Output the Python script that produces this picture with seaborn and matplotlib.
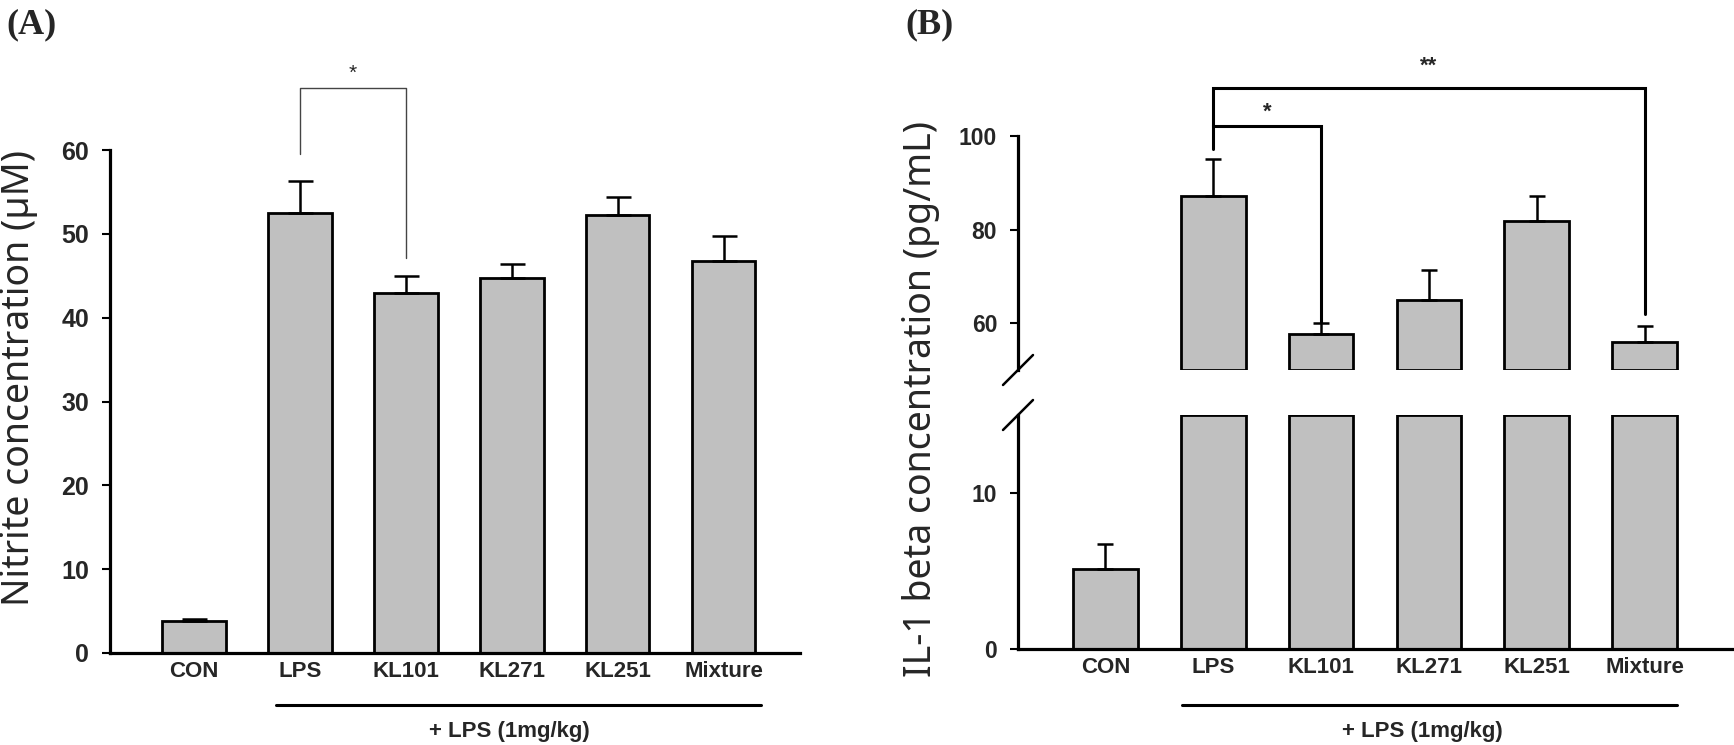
import numpy as np
import matplotlib
matplotlib.use("Agg")
import matplotlib.pyplot as plt
import matplotlib.transforms as mtransforms
import seaborn as sns

# --- data ---
groups = ["CON", "LPS", "KL101", "KL271", "KL251", "Mixture"]
nitrite_mean = [3.8, 52.5, 43.0, 44.7, 52.3, 46.7]
nitrite_err = [0.2, 3.8, 2.0, 1.7, 2.1, 3.0]
il1b_mean = [5.1, 87.2, 57.6, 65.0, 81.9, 56.0]
il1b_err = [1.6, 7.8, 2.4, 6.3, 5.3, 3.5]
a_ticks = [0, 10, 20, 30, 40, 50, 60]
b_low_ticks = [0, 10]
b_high_ticks = [60, 80, 100]
treat_label = "+ LPS (1mg/kg)"

BAR = "#c0c0c0"
SANS = ["Liberation Sans", "DejaVu Sans"]
LABEL_FONT = ["Noto Sans", "DejaVu Sans"]
SERIF = ["Liberation Serif", "DejaVu Serif"]

sns.set_style("ticks")
plt.rcParams["font.family"] = SANS

fig = plt.figure(figsize=(17.34, 7.45), dpi=100)
W, H = 1734, 745


def px_axes(left, top, right, bottom):
    return fig.add_axes([left / W, 1 - bottom / H, (right - left) / W, (bottom - top) / H])


def draw_bars(ax, means, errs, capsize):
    sns.barplot(x=groups, y=means, color=BAR, saturation=1, edgecolor="black",
                linewidth=2, width=0.6, errorbar=None, ax=ax)
    ax.errorbar(range(len(groups)), means, yerr=[np.zeros(len(errs)), errs],
                fmt="none", ecolor="black", elinewidth=1.8, capsize=capsize,
                capthick=1.8, zorder=1)


def style_axis(ax, ticks, tick_size, xlabels=True):
    ax.set_yticks(ticks)
    ax.set_yticklabels([str(t) for t in ticks], fontsize=tick_size, fontweight="bold")
    ax.tick_params(axis="y", direction="out", length=6, width=1.5, pad=9, color="black")
    ax.tick_params(axis="x", length=0, pad=6)
    for s in ["top", "right"]:
        ax.spines[s].set_visible(False)
    for s in ["left", "bottom"]:
        ax.spines[s].set_linewidth(2.3)
        ax.spines[s].set_color("black")
    ax.set_xlabel("")
    ax.set_ylabel("")
    if xlabels:
        ax.set_xticks(range(len(groups)))
        ax.set_xticklabels(groups, fontsize=16, fontweight="bold")
    else:
        ax.set_xticks([])


def treatment_bar(ax, x0, x1, xmid):
    tr = mtransforms.blended_transform_factory(ax.transData, fig.transFigure)
    ax.plot([x0, x1], [1 - 705 / H, 1 - 705 / H], color="black", lw=2.2,
            transform=tr, clip_on=False)
    ax.text(xmid, 1 - 732 / H, treat_label, transform=tr, ha="center", va="center",
            fontsize=16, fontweight="bold")


# ---------------- Panel A ----------------
axA = px_axes(110, 150, 800, 653)
draw_bars(axA, nitrite_mean, nitrite_err, capsize=9)
axA.set_ylim(0, 60)
axA.set_xlim(-0.79, 5.72)
style_axis(axA, a_ticks, 18)
treatment_bar(axA, 0.78, 5.35, 2.98)

# significance bracket
axA.plot([1, 1, 2, 2], [59.5, 67.4, 67.4, 47.1], color="#444444", lw=1, clip_on=False)
axA.text(1.5, 69.2, "*", ha="center", va="center", fontsize=15)

fig.text(19 / W, 1 - 378 / H, "Nitrite concentration (\u00b5M)", rotation=90,
         ha="center", va="center", fontsize=27, family=LABEL_FONT)
fig.text(6 / W, 1 - 8 / H, "(A)", ha="left", va="top", fontsize=26,
         fontweight="bold", family=SERIF)

# ---------------- Panel B (broken axis) ----------------
axB_hi = px_axes(1018, 136, 1732, 370)
axB_lo = px_axes(1018, 415, 1732, 649)

draw_bars(axB_hi, il1b_mean, il1b_err, capsize=6)
draw_bars(axB_lo, il1b_mean, il1b_err, capsize=6)

for p in axB_lo.patches:
    if p.get_height() > 15:
        p.set_height(15)
for p in axB_hi.patches:
    h = p.get_height()
    if h > 50:
        p.set_y(50)
        p.set_height(h - 50)
    else:
        p.set_visible(False)

for ax in (axB_hi, axB_lo):
    ax.set_xlim(-0.81, 5.81)
axB_hi.set_ylim(50, 100)
axB_lo.set_ylim(0, 15)
style_axis(axB_hi, b_high_ticks, 16.5, xlabels=False)
axB_hi.spines["bottom"].set_visible(False)
style_axis(axB_lo, b_low_ticks, 16.5)
treatment_bar(axB_lo, 0.71, 5.3, 2.94)

# break marks
dx, dy = 15 / 714, 15 / 234
axB_hi.plot([-dx, dx], [-dy, dy], transform=axB_hi.transAxes, color="black",
            lw=1.8, clip_on=False)
axB_lo.plot([-dx, dx], [1 - dy, 1 + dy], transform=axB_lo.transAxes, color="black",
            lw=1.8, clip_on=False)

# significance brackets
axB_hi.plot([1, 1, 2, 2], [97.2, 102.1, 102.1, 60.2], color="black", lw=2.2,
            clip_on=False, solid_joinstyle="miter")
axB_hi.plot([1, 1, 5, 5], [102.1, 110.2, 110.2, 62.0], color="black", lw=2.2,
            clip_on=False, solid_joinstyle="miter")
axB_hi.text(1.5, 105.0, "*", ha="center", va="center", fontsize=16, fontweight="bold")
axB_hi.text(3.0, 115.0, "**", ha="center", va="center", fontsize=16, fontweight="bold")

fig.text(921 / W, 1 - 399 / H, "IL-1 beta concentration (pg/mL)", rotation=90,
         ha="center", va="center", fontsize=27, family=LABEL_FONT)
fig.text(905 / W, 1 - 8 / H, "(B)", ha="left", va="top", fontsize=26,
         fontweight="bold", family=SERIF)

fig.savefig("out.png", dpi=100)
